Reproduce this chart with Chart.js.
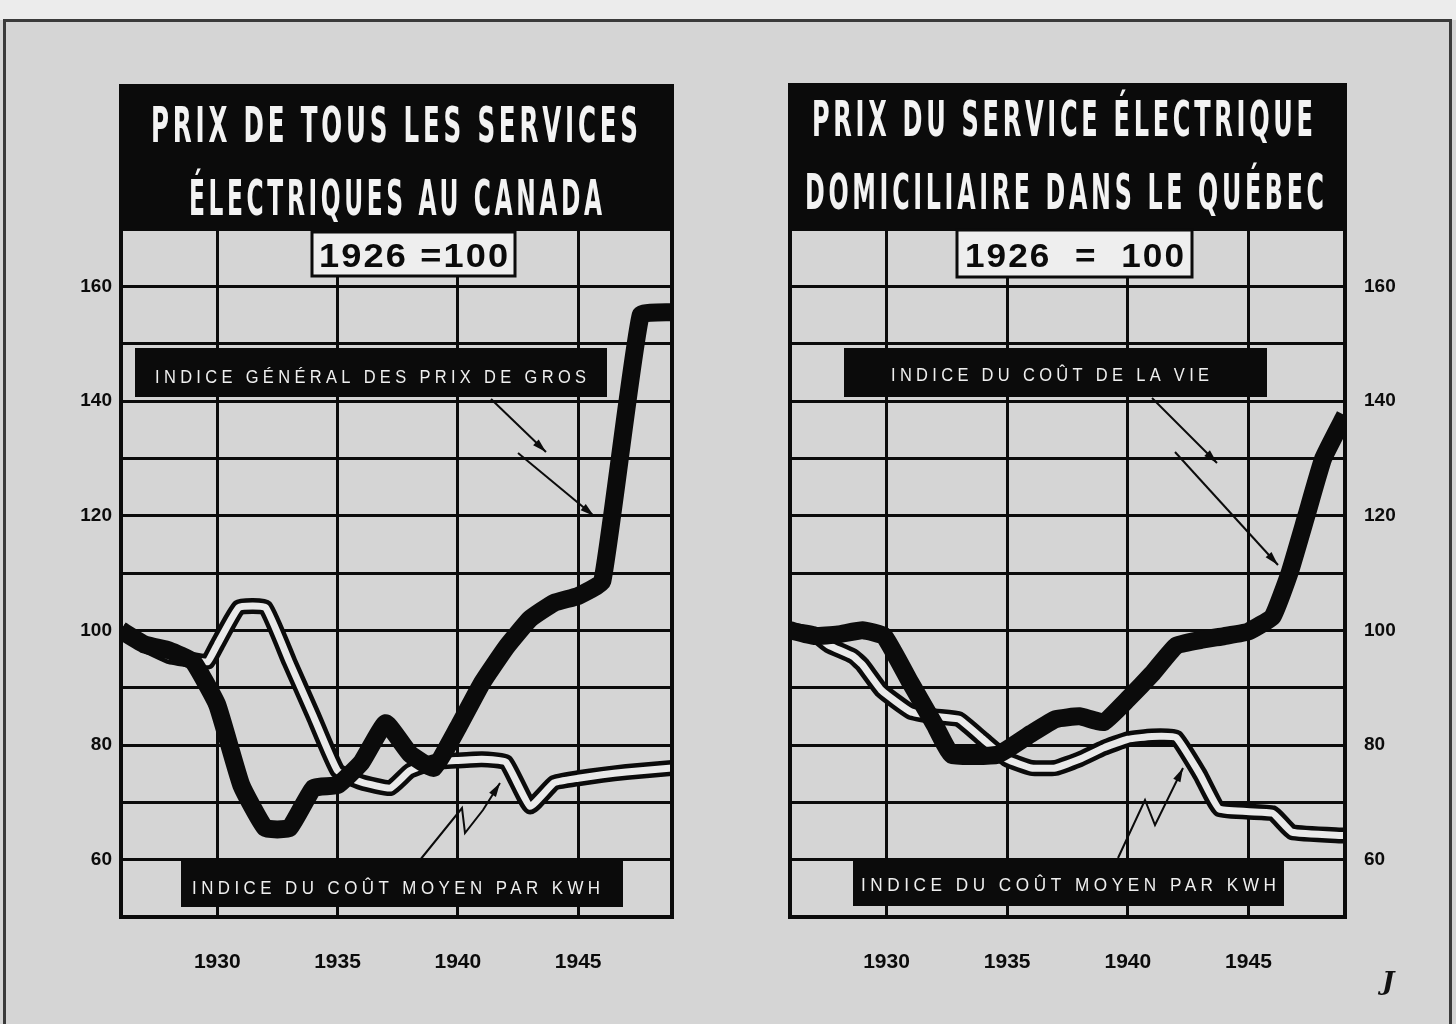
<!DOCTYPE html>
<html><head><meta charset="utf-8">
<script src="https://cdn.jsdelivr.net/npm/chart.js@4.4.1/dist/chart.umd.min.js"></script>
<style>
html,body{margin:0;padding:0;background:#d5d5d5;width:1456px;height:1024px;overflow:hidden;}
#topstrip{position:absolute;left:0;top:0;width:1456px;height:20px;background:#ececec;}
#frame{position:absolute;left:3px;top:19px;width:1449px;height:1010px;border:3px solid #3a3a3a;border-bottom:none;box-sizing:border-box;}
.cw{position:absolute;top:0;width:728px;height:1024px;}
#mark{position:absolute;left:1382px;top:966px;font:italic bold 26px "DejaVu Serif",serif;color:#111;}
</style></head><body>
<div id="topstrip"></div><div id="frame"></div>
<div class="cw" style="left:0"><canvas id="c1" width="728" height="1024"></canvas></div>
<div class="cw" style="left:728px"><canvas id="c2" width="728" height="1024"></canvas></div>
<div id="mark">J</div>
<script>
// ---------- DATA ----------
const yearTicks = [1930, 1935, 1940, 1945];
const valueLabels = [60, 80, 100, 120, 140, 160];

// Canada : Indice général des prix de gros (thick line)
const yearsGros = [1926,1927,1928,1929,1930,1931,1932,1933,1934,1935,1936,1937,1938,1939,1940,1941,1942,1943,1944,1945,1946,1947.6,1948.9];
const prixGros  = [100,97.5,96.5,94.5,87,73,65.5,65.5,72.5,73,77,83.8,78.5,76,83,90.8,97,102,104.8,106,108.5,155,155.5];

// Canada : Indice du coût moyen par KWH (double line)
const yearsKwhCanada = [1926,1927,1928,1929,1929.6,1930,1930.9,1932,1933,1934,1935,1936,1937.2,1938,1939,1940,1941,1942,1943,1944,1945,1946,1947,1948.9];
const kwhCanada      = [100,97.5,95.5,94.8,94.5,97.5,104,104,94.5,85,75.5,73.5,72.5,75.5,77,77.3,77.5,77,69.3,73.4,74.2,74.8,75.3,76];

// Québec : Indice du coût de la vie (thick line)
const yearsVie = [1926,1927,1928,1929,1929.9,1931,1932,1932.7,1934.6,1936,1937,1938,1939,1940,1941,1942,1943,1944,1945,1946,1946.7,1947.4,1948.1,1949];
const coutVie  = [100,99,99.3,100,99,90.8,83.5,78.3,78.3,82,84.5,85,84,88,92.4,97.3,98.3,99,99.8,102.4,110,120,130,137.5];

// Québec : Indice du coût moyen par KWH (double line)
const yearsKwhQuebec = [1926,1927,1927.6,1928.6,1929,1929.8,1931,1932,1933,1934,1935,1936,1937,1938,1939,1940,1941,1942,1943,1943.8,1946,1946.8,1949];
const kwhQuebec      = [100,99.3,97.4,95.5,94,89.5,85.8,85,84.5,81,77.5,76,76,77.5,79.5,81,81.5,81.3,74.8,68.8,68.1,64.8,64.2];

// ---------- STYLE ----------
const INK = '#0b0b0b';
const BG = '#d5d5d5';
const GAP = '#e9e9e9';
const TXT_FAMILY = '"Liberation Sans", Arial, sans-serif';
const TITLE_FONT = 'bold 50px "Liberation Sans Narrow", "DejaVu Sans Condensed", sans-serif';

function pts(xs, ys){ return xs.map((x,i)=>({x:x, y:ys[i]})); }

function fitText(ctx, text, x0, x1, base, font, spacing){
  ctx.save();
  ctx.font = font;
  const hasLS = ('letterSpacing' in ctx);
  if (hasLS) ctx.letterSpacing = spacing + 'px';
  let w = ctx.measureText(text).width - (hasLS ? spacing : 0);
  ctx.translate(x0, base);
  ctx.scale((x1 - x0) / w, 1);
  ctx.textAlign = 'left';
  ctx.textBaseline = 'alphabetic';
  ctx.fillText(text, 0, 0);
  ctx.restore();
}
function arrowHead(ctx, x0, y0, x1, y1, len, half){
  const a = Math.atan2(y1 - y0, x1 - x0), c = Math.cos(a), s = Math.sin(a);
  ctx.beginPath();
  ctx.moveTo(x1, y1);
  ctx.lineTo(x1 - len*c + half*s, y1 - len*s - half*c);
  ctx.lineTo(x1 - len*c - half*s, y1 - len*s + half*c);
  ctx.closePath(); ctx.fill();
}

const decor = {
  id: 'decor',
  afterDraw(chart, args, o){
    const ctx = chart.ctx, a = chart.chartArea, off = o.offset;
    ctx.save();
    // title block
    ctx.fillStyle = INK;
    ctx.fillRect(a.left, o.boxTop, a.right - a.left, a.top - o.boxTop + 1);
    // frame
    ctx.strokeStyle = INK; ctx.lineWidth = 4;
    ctx.strokeRect(a.left, o.boxTop, a.right - a.left, a.bottom - o.boxTop);
    // title text
    ctx.fillStyle = '#f3f3f3';
    o.title.forEach(t => fitText(ctx, t.text, t.x0 - off, t.x1 - off, t.base, TITLE_FONT, 7));
    // base box "1926 = 100"
    const b = o.base;
    ctx.fillStyle = '#eeeeee';
    ctx.fillRect(b.x0 - off, b.y0, b.x1 - b.x0, b.y1 - b.y0);
    ctx.lineWidth = 3; ctx.strokeStyle = INK;
    ctx.strokeRect(b.x0 - off, b.y0, b.x1 - b.x0, b.y1 - b.y0);
    ctx.fillStyle = INK;
    fitText(ctx, b.text, b.tx0 - off, b.tx1 - off, b.base, 'bold 34px ' + TXT_FAMILY, 2);
    // leader lines
    ctx.strokeStyle = INK; ctx.fillStyle = INK; ctx.lineWidth = 2;
    o.leaders.forEach(l => {
      ctx.beginPath();
      l.forEach((p, i) => i ? ctx.lineTo(p[0] - off, p[1]) : ctx.moveTo(p[0] - off, p[1]));
      ctx.stroke();
      const p1 = l[l.length - 2], p2 = l[l.length - 1];
      arrowHead(ctx, p1[0] - off, p1[1], p2[0] - off, p2[1], 14, 4);
    });
    // label boxes
    o.labels.forEach(l => {
      ctx.fillStyle = INK;
      ctx.fillRect(l.x0 - off, l.y0, l.x1 - l.x0, l.y1 - l.y0);
      ctx.fillStyle = '#efefef';
      fitText(ctx, l.text, l.tx0 - off, l.tx1 - off, l.base, '19px ' + TXT_FAMILY, 5);
    });
    ctx.restore();
  }
};

function makeChart(id, cfg){
  const yTickCb = v => valueLabels.includes(v) ? String(v) : '';
  return new Chart(document.getElementById(id), {
    type: 'line',
    data: { datasets: [
      { data: pts(cfg.thickX, cfg.thickY), borderColor: INK, borderWidth: 18, tension: 0.12, borderJoinStyle: 'round', pointRadius: 0 },
      { data: pts(cfg.dblX, cfg.dblY), borderColor: GAP, borderWidth: 7, tension: 0.12, borderJoinStyle: 'round', pointRadius: 0 },
      { data: pts(cfg.dblX, cfg.dblY), borderColor: INK, borderWidth: 16, tension: 0.12, borderJoinStyle: 'round', pointRadius: 0 }
    ]},
    options: {
      responsive: false, animation: false, devicePixelRatio: 1,
      layout: { padding: cfg.padding },
      plugins: { legend: { display: false }, tooltip: { enabled: false }, decor: cfg.decor },
      scales: {
        x: {
          type: 'linear', min: 1926, max: cfg.xMax,
          afterBuildTicks: s => { s.ticks = yearTicks.map(v => ({ value: v })); },
          afterFit: s => { s.height = 107; },
          ticks: { callback: v => String(v), padding: 33, color: INK, font: { family: TXT_FAMILY, size: 21, weight: 'bold' }, autoSkip: false, maxRotation: 0 },
          grid: { color: INK, lineWidth: 3, drawTicks: false },
          border: { display: false }
        },
        y: {
          position: cfg.yPos, min: 50, max: 170,
          afterFit: s => { s.width = cfg.yWidth; },
          ticks: { stepSize: 10, callback: yTickCb, padding: cfg.yPad, color: INK, font: { family: TXT_FAMILY, size: 19, weight: 'bold' }, autoSkip: false },
          grid: { color: INK, lineWidth: 3, drawTicks: false },
          border: { display: false }
        }
      }
    },
    plugins: [decor]
  });
}

makeChart('c1', {
  thickX: yearsGros, thickY: prixGros, dblX: yearsKwhCanada, dblY: kwhCanada,
  xMax: 1948.9, yPos: 'left', yWidth: 121, yPad: 9,
  padding: { left: 0, top: 229, right: 56, bottom: 0 },
  decor: {
    offset: 0, boxTop: 86,
    title: [
      { text: 'PRIX DE TOUS LES SERVICES', x0: 151, x1: 638, base: 142 },
      { text: 'ÉLECTRIQUES AU CANADA', x0: 189, x1: 602, base: 215 }
    ],
    base: { x0: 312, x1: 515, y0: 232, y1: 276, text: '1926 =100', tx0: 319, tx1: 508, base: 267 },
    labels: [
      { x0: 135, x1: 607, y0: 348, y1: 397, text: 'INDICE GÉNÉRAL DES PRIX DE GROS', tx0: 155, tx1: 586, base: 383 },
      { x0: 181, x1: 623, y0: 861, y1: 907, text: 'INDICE DU COÛT MOYEN PAR KWH', tx0: 192, tx1: 600, base: 894 }
    ],
    leaders: [
      [[491, 399], [546, 452]],
      [[518, 453], [594, 516]],
      [[420, 860], [462, 808], [465, 833], [483, 810], [500, 783]]
    ]
  }
});

makeChart('c2', {
  thickX: yearsVie, thickY: coutVie, dblX: yearsKwhQuebec, dblY: kwhQuebec,
  xMax: 1949, yPos: 'right', yWidth: 111, yPad: 19,
  padding: { left: 62, top: 229, right: 0, bottom: 0 },
  decor: {
    offset: 728, boxTop: 85,
    title: [
      { text: 'PRIX DU SERVICE ÉLECTRIQUE', x0: 812, x1: 1313, base: 136 },
      { text: 'DOMICILIAIRE DANS LE QUÉBEC', x0: 805, x1: 1324, base: 209 }
    ],
    base: { x0: 957, x1: 1192, y0: 230, y1: 277, text: '1926  =  100', tx0: 965, tx1: 1184, base: 267 },
    labels: [
      { x0: 844, x1: 1267, y0: 348, y1: 397, text: 'INDICE DU COÛT DE LA VIE', tx0: 891, tx1: 1209, base: 381 },
      { x0: 853, x1: 1284, y0: 859, y1: 906, text: 'INDICE DU COÛT MOYEN PAR KWH', tx0: 861, tx1: 1276, base: 891 }
    ],
    leaders: [
      [[1152, 398], [1217, 463]],
      [[1175, 452], [1278, 565]],
      [[1118, 858], [1145, 800], [1155, 825], [1183, 768]]
    ]
  }
});
</script>
</body></html>
